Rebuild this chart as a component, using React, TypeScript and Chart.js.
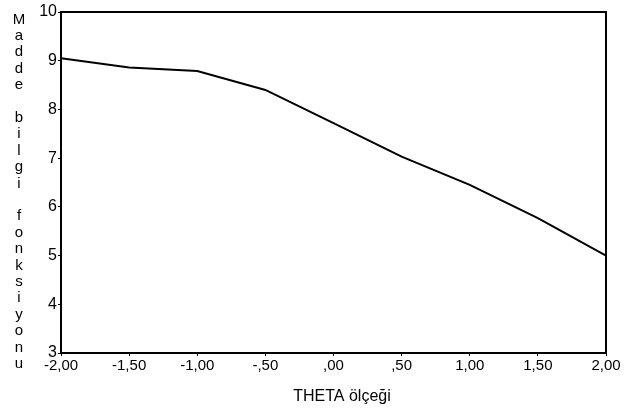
import React, { useEffect, useRef } from "react";
import { Chart, registerables } from "chart.js";

Chart.register(...registerables);

const thetaValues = [-2, -1.5, -1, -0.5, 0, 0.5, 1, 1.5, 2];
const infoValues = [9.05, 8.86, 8.79, 8.4, 7.72, 7.03, 6.45, 5.77, 5.0];
const xTickLabels = ["-2,00", "-1,50", "-1,00", "-,50", ",00", ",50", "1,00", "1,50", "2,00"];
const yTickValues = [3, 4, 5, 6, 7, 8, 9, 10];
const yTitle = "Madde bilgi fonksiyonu";
const xTitle = "THETA ölçeği";

const FONT = "'Liberation Sans', Arial, sans-serif";

const Y_TITLE_X = 19;
const Y_TITLE_Y0 = 19.5;
const Y_TITLE_STEP = 16.4;

const framePlugin = {
  id: "frame",
  afterDraw(chart: any) {
    const { ctx, chartArea } = chart;
    ctx.save();
    ctx.strokeStyle = "#000";
    ctx.lineWidth = 2;
    ctx.strokeRect(chartArea.left, chartArea.top, chartArea.right - chartArea.left, chartArea.bottom - chartArea.top);
    ctx.fillStyle = "#000";
    ctx.textAlign = "center";
    ctx.textBaseline = "middle";
    ctx.font = `15px ${FONT}`;
    yTitle.split("").forEach((ch, i) => {
      if (ch !== " ") ctx.fillText(ch, Y_TITLE_X, Y_TITLE_Y0 + i * Y_TITLE_STEP);
    });
    ctx.font = `16px ${FONT}`;
    ctx.fillText(xTitle, 342, 397);
    ctx.restore();
  },
};

export default function App() {
  const ref = useRef<HTMLCanvasElement | null>(null);
  useEffect(() => {
    document.body.style.margin = "0";
    const canvas = ref.current;
    if (!canvas) return;
    const chart = new Chart(canvas, {
      type: "line",
      data: {
        datasets: [
          {
            data: thetaValues.map((x, i) => ({ x, y: infoValues[i] })),
            borderColor: "#000",
            borderWidth: 2,
            pointRadius: 0,
            tension: 0,
            fill: false,
          },
        ],
      },
      options: {
        animation: false,
        responsive: false,
        maintainAspectRatio: false,
        layout: { padding: { left: 0, right: 37, top: 12, bottom: 0 } },
        plugins: { legend: { display: false }, tooltip: { enabled: false }, title: { display: false } },
        scales: {
          x: {
            type: "linear",
            min: -2,
            max: 2,
            afterFit: (s: any) => {
              s.height = 61;
            },
            afterBuildTicks: (s: any) => {
              s.ticks = thetaValues.map((v) => ({ value: v }));
            },
            ticks: {
              autoSkip: false,
              maxRotation: 0,
              color: "#000",
              font: { family: FONT, size: 15 },
              padding: 1,
              callback: (v: any) => {
                const i = thetaValues.indexOf(Number(v));
                return i >= 0 ? xTickLabels[i] : "";
              },
            },
            grid: { drawOnChartArea: false, color: "#000", tickLength: 3 },
            border: { display: true, color: "#000", width: 2 },
          },
          y: {
            type: "linear",
            min: 3,
            max: 10,
            afterFit: (s: any) => {
              s.width = 61;
            },
            afterBuildTicks: (s: any) => {
              s.ticks = yTickValues.map((v) => ({ value: v }));
            },
            ticks: {
              color: "#000",
              font: { family: FONT, size: 16 },
              padding: 1,
              callback: (v: any) => String(v),
            },
            grid: { drawOnChartArea: false, color: "#000", tickLength: 3 },
            border: { display: true, color: "#000", width: 2 },
          },
        },
      },
      plugins: [framePlugin],
    });
    return () => chart.destroy();
  }, []);
  return (
    <div style={{ position: "absolute", left: 0, top: 0, width: 643, height: 414, background: "#fff" }}>
      <canvas ref={ref} width={643} height={414} style={{ display: "block", width: 643, height: 414 }} />
    </div>
  );
}
